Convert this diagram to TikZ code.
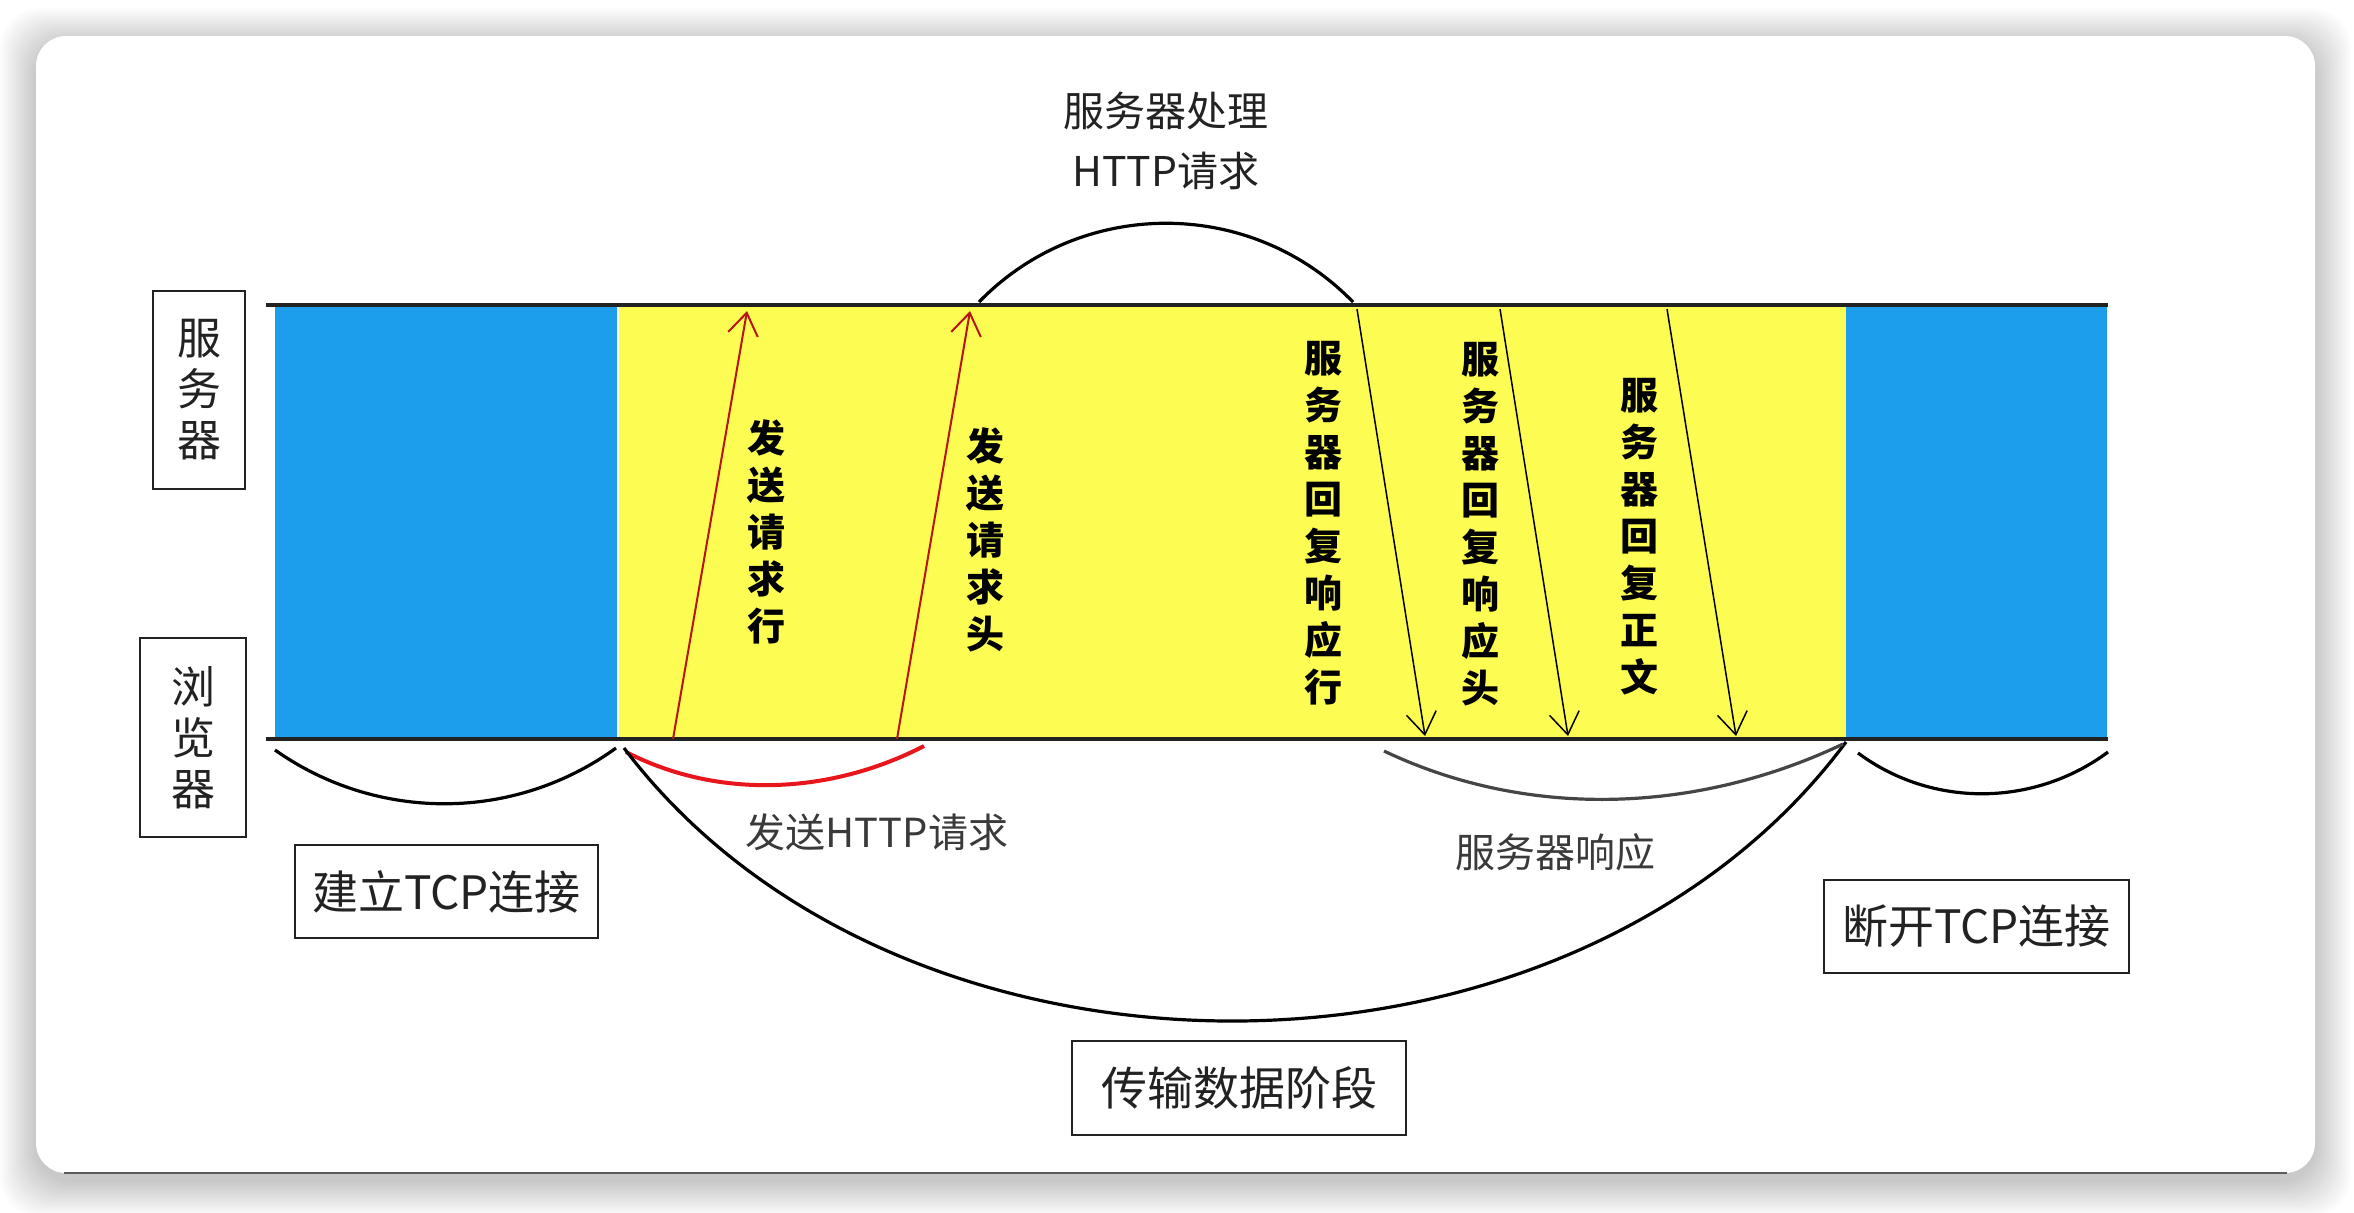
\documentclass[tikz,border=0pt]{standalone}
\usepackage{fontspec}
\newfontfamily\cjk{Noto Sans CJK SC}
\usetikzlibrary{arrows.meta}
\definecolor{blueband}{HTML}{1D9EED}
\definecolor{yellowband}{HTML}{FCFC52}
\definecolor{redarrow}{HTML}{B81414}
\definecolor{redarc}{HTML}{E8161C}
\definecolor{inkgray}{HTML}{222222}
\definecolor{midgray}{HTML}{3A3A3A}
\definecolor{arcgray}{HTML}{454545}
\definecolor{edgegray}{HTML}{5A5A5A}
\begin{document}
\begin{tikzpicture}[x=0.5pt,y=-0.5pt,
  labelbox/.style={draw=inkgray, line width=1.3pt, fill=white, inner sep=0pt, align=center, text=inkgray},
  hbox/.style={labelbox, font=\cjk\fontsize{23}{25.5}\selectfont},
  vbox/.style={labelbox, font=\cjk\fontsize{22}{25.5}\selectfont},
  vlabel/.style={inner sep=0pt, align=center, font=\cjk\bfseries\fontsize{19}{23.5}\selectfont, text=black},
  plainlabel/.style={inner sep=0pt, align=center, font=\cjk\fontsize{20}{30}\selectfont, text=inkgray},
  softlabel/.style={inner sep=0pt, align=center, font=\cjk\fontsize{20}{30}\selectfont, text=midgray},
  timeline/.style={line width=1.7pt, draw=inkgray},
  reqarrow/.style={draw=redarrow, line width=1pt, -{Straight Barb[length=11pt,width=15pt]}},
  resarrow/.style={draw=black, line width=0.75pt, -{Straight Barb[length=11pt,width=15pt]}},
  phasearc/.style={line width=1.6pt, draw=black},
]
\useasboundingbox (0,0) rectangle (2354,1212);
\fill[white] (0,0) rectangle (2354,1212);
% soft shadow of the card
\foreach \i in {1,...,18}{
  \fill[black, opacity=0.012, rounded corners=20pt] ({36-2*\i},{36-2*\i+8}) rectangle ({2315+2*\i},{1173+2*\i+8});
}
\fill[white, rounded corners=15pt] (36,36) rectangle (2315,1173);
\coordinate (edgeL) at (64,1173); \coordinate (edgeR) at (2287,1173);
\draw[edgegray, line width=1pt] (edgeL) -- (edgeR);

% bands
\fill[blueband] (275,305) rectangle (617,739);
\fill[yellowband] (619,305) rectangle (1846,739);
\fill[blueband] (1846,305) rectangle (2107,739);

% time lines
\coordinate (srvL) at (266,305); \coordinate (srvR) at (2108,305);
\coordinate (brwL) at (266,739); \coordinate (brwR) at (2108,739);
\draw[timeline] (srvL) -- (srvR);
\draw[timeline] (brwL) -- (brwR);

% phase arcs
\coordinate (procA) at (979,302); \coordinate (procB) at (1353,302);
\draw[phasearc] (procA) .. controls (1081,197) and (1251,197) .. (procB);
\coordinate (tcpA) at (275,750); \coordinate (tcpB) at (616,748);
\draw[phasearc] (tcpA) .. controls (377,822) and (514,822) .. (tcpB);
\coordinate (reqA) at (626,752); \coordinate (reqB) at (924,746);
\draw[line width=2pt, draw=redarc] (reqA) .. controls (719,800) and (831,794) .. (reqB);
\coordinate (dataA) at (624,748); \coordinate (dataB) at (1846,742);
\draw[phasearc] (dataA) .. controls (900,1113) and (1570,1113) .. (dataB);
\coordinate (resA) at (1384,751); \coordinate (resB) at (1843,744);
\draw[line width=1.6pt, draw=arcgray] (resA) .. controls (1529,820) and (1698,813) .. (resB);
\coordinate (finA) at (1858,753); \coordinate (finB) at (2108,752);
\draw[phasearc] (finA) .. controls (1932,808) and (2034,807) .. (finB);

% request arrows
\coordinate (q1s) at (673,739); \coordinate (q1e) at (747,311);
\coordinate (q2s) at (897,739); \coordinate (q2e) at (970,311);
\draw[reqarrow] (q1s) -- (q1e);
\draw[reqarrow] (q2s) -- (q2e);
% response arrows
\coordinate (r1s) at (1357,309); \coordinate (r1e) at (1425,736);
\coordinate (r2s) at (1500,309); \coordinate (r2e) at (1568,736);
\coordinate (r3s) at (1667,309); \coordinate (r3e) at (1736,736);
\draw[resarrow] (r1s) -- (r1e);
\draw[resarrow] (r2s) -- (r2e);
\draw[resarrow] (r3s) -- (r3e);

% arrow labels
\node[vlabel] (l1) at (766,532) {发\\送\\请\\求\\行};
\node[vlabel] (l2) at (985,540) {发\\送\\请\\求\\头};
\node[vlabel] (l3) at (1323,523) {服\\务\\器\\回\\复\\响\\应\\行};
\node[vlabel] (l4) at (1480,524) {服\\务\\器\\回\\复\\响\\应\\头};
\node[vlabel] (l5) at (1639,537) {服\\务\\器\\回\\复\\正\\文};

% free labels
\node[plainlabel, font=\cjk\fontsize{20.5}{30}\selectfont] (proc) at (1166,141) {服务器处理\\HTTP请求};
\node[softlabel] (reqtxt) at (877,832) {发送HTTP请求};
\node[softlabel] (restxt) at (1555,852) {服务器响应};

% boxes
\node[vbox, minimum width=46pt, minimum height=99pt] (srvbox) at (199,390) {服\\务\\器};
\node[vbox, minimum width=53pt, minimum height=99.5pt] (brwbox) at (193,737.5) {浏\\览\\器};
\node[hbox, minimum width=151.5pt, minimum height=46.5pt] (tcpbox) at (446.5,891.5) {建立TCP连接};
\node[hbox, minimum width=152.5pt, minimum height=46.5pt] (finbox) at (1976.5,926.5) {断开TCP连接};
\node[hbox, minimum width=167pt, minimum height=47pt] (databox) at (1239,1088) {传输数据阶段};
\end{tikzpicture}
\end{document}
